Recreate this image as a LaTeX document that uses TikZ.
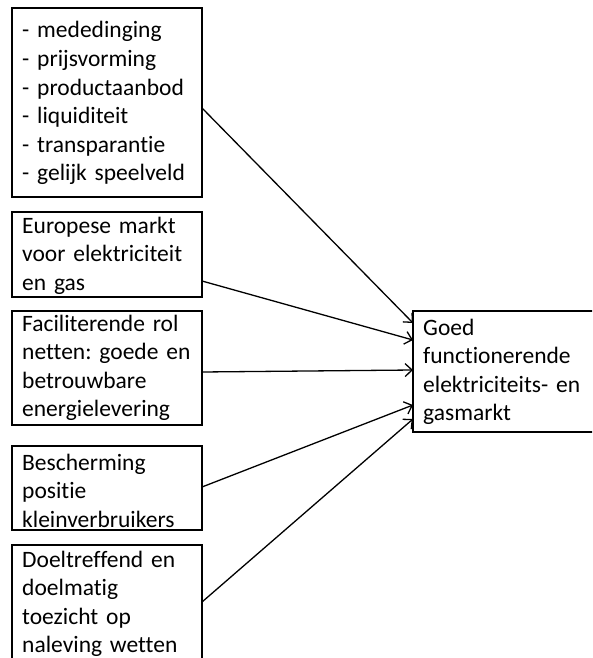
\documentclass[tikz,border=0pt]{standalone}
\usepackage{fontspec}
\setmainfont{Carlito}[Ligatures=NoCommon]
\frenchspacing
\usetikzlibrary{arrows.meta}
\begin{document}
\begin{tikzpicture}[x=1pt,y=-1pt,
  box/.style={draw=black, line width=2.3pt, fill=white, anchor=north west,
    inner sep=0pt, outer sep=0pt},
  boxtext/.style={anchor=base west, inner sep=0pt, text width=176pt, align=left,
    font=\fontsize{23.5pt}{28.6pt}\selectfont},
  feed/.style={line width=1.3pt, -{Straight Barb[length=7pt,width=13pt]}}]
\useasboundingbox (0,0) rectangle (592,658);
\clip (0,0) rectangle (592,658);
\fill[white] (0,0) rectangle (592,658);

% factor boxes on the left
\node[box, minimum width=190pt, minimum height=189pt] (b1) at (12,8) {};
\node[boxtext] (b1t) at (22,38) {- mededinging\\- prijsvorming\\- productaanbod\\- liquiditeit\\- transparantie\\- gelijk speelveld};

\node[box, minimum width=190pt, minimum height=85pt] (b2) at (12,212) {};
\node[boxtext] (b2t) at (22,233) {Europese markt\\voor elektriciteit\\en gas};

\node[box, minimum width=190pt, minimum height=114pt] (b3) at (12,311) {};
\node[boxtext] (b3t) at (22,331) {Faciliterende rol\\netten: goede en\\betrouwbare\\energielevering};

\node[box, minimum width=190pt, minimum height=84pt] (b4) at (12,446) {};
\node[boxtext] (b4t) at (22,470) {Bescherming\\positie\\kleinverbruikers};

\node[box, minimum width=190pt, minimum height=130pt] (b5) at (12,545) {};
\node[boxtext] (b5t) at (22,567) {Doeltreffend en\\doelmatig\\toezicht op\\naleving wetten};

% goal box on the right; it runs past the right margin, so no right side
\node[box, draw=none, minimum width=240pt, minimum height=121pt] (t) at (413,311) {};
\draw[line width=2.3pt] (t.north east) -- (t.north west) -- (t.south west) -- (t.south east);
\node[boxtext] (tt) at (423,335) {Goed\\functionerende\\elektriciteits- en\\gasmarkt};

% connectors
\draw[feed] ([yshift=-100pt]b1.north east) -- ([yshift=-12pt]t.north west);
\draw[feed] ([yshift=-69pt]b2.north east) -- ([yshift=-29pt]t.north west);
\draw[feed] ([yshift=-61pt]b3.north east) -- ([yshift=-59pt]t.north west);
\draw[feed] ([yshift=-41pt]b4.north east) -- ([yshift=-94pt]t.north west);
\draw[feed] ([yshift=-57pt]b5.north east) -- ([yshift=-108pt]t.north west);
\end{tikzpicture}
\end{document}
